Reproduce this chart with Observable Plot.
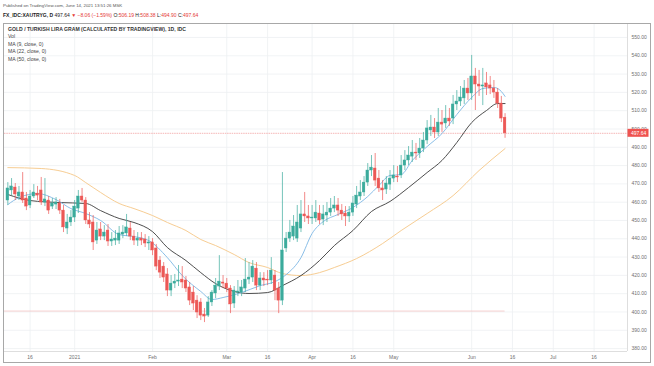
<!DOCTYPE html>
<html><head><meta charset="utf-8">
<script src="https://cdn.jsdelivr.net/npm/d3@7"></script>
<script src="https://cdn.jsdelivr.net/npm/@observablehq/plot@0.6"></script>
<style>
body{margin:0;width:654px;height:366px;position:relative;background:#fff;font-family:"Liberation Sans",Arial,sans-serif;overflow:hidden}
#chart{position:absolute;left:0;top:0}
#frame{position:absolute;left:3px;top:23px;width:646px;height:338px;border:1px solid #a8a8a8;pointer-events:none}
.h1{position:absolute;left:3px;top:3px;font-size:4.4px;color:#555;white-space:nowrap}
.h2{position:absolute;left:3px;top:12px;font-size:5px;color:#222;white-space:nowrap}
.red{color:#e53935}
.leg{position:absolute;left:8px;font-size:5.1px;color:#444;white-space:nowrap;line-height:1}
</style></head><body>
<div id="chart"></div>
<div id="frame"></div>
<div class="h1">Published on TradingView.com, June 14, 2021 13:51:26 MSK</div>
<div class="h2" id="hdr"></div>
<div class="leg" style="top:26.5px;font-weight:bold;color:#333">GOLD / TURKISH LIRA GRAM (CALCULATED BY TRADINGVIEW), 1D, IDC</div>
<div class="leg" style="top:34.3px">Vol</div>
<div class="leg" style="top:41.8px">MA (9, close, 0)</div>
<div class="leg" style="top:49.3px">MA (22, close, 0)</div>
<div class="leg" style="top:56.8px">MA (50, close, 0)</div>
<script>
// Daily bars (weekdays) starting 2020-12-08; bar offset 0 = 2021-01-01
const firstDay = "2020-12-08";
const open = [460.9,466.4,468.0,463.1,465.3,462.0,458.2,463.1,464.7,466.4,
459.8,460.9,457.6,458.7,459.3,455.4,445.6,448.9,451.6,456.5,
463.1,460.9,450.0,448.9,439.0,445.1,441.2,444.5,438.5,439.0,
439.0,442.3,442.9,445.6,441.2,439.0,440.1,439.6,437.4,438.0,
434.7,428.1,424.8,420.5,411.7,415.5,416.6,417.7,417.2,413.4,
410.6,406.2,405.2,398.6,398.0,405.2,410.1,413.9,416.1,415.5,
412.8,404.6,410.6,410.6,412.8,417.7,418.8,423.7,414.4,418.3,
417.7,417.2,419.9,412.8,406.2,434.7,440.1,441.2,440.1,445.6,
453.3,452.2,451.1,451.1,453.8,450.5,452.7,454.3,456.5,458.2,
455.4,453.8,452.2,454.3,458.7,463.1,465.3,470.7,477.3,478.4,
472.9,467.5,466.9,469.6,472.9,474.0,474.6,480.0,482.8,484.9,
487.1,486.6,489.3,493.7,499.2,500.8,498.1,503.5,503.0,505.7,
505.7,513.4,515.0,516.7,522.1,519.4,528.7,524.3,523.2,524.9,
523.8,522.1,519.9,513.9,506.19];
const high = [470.7,472.9,470.2,468.6,476.2,465.3,466.4,469.6,468.6,473.5,
472.9,463.1,462.0,462.5,461.5,458.2,453.3,455.4,460.9,466.4,
467.5,462.5,454.3,452.7,448.9,448.9,447.2,447.8,443.4,444.5,
446.7,447.2,453.3,448.9,444.5,443.4,443.4,442.3,441.2,440.1,
436.9,430.3,427.0,423.7,419.9,420.5,425.4,424.8,419.4,416.1,
413.9,408.9,407.3,401.9,408.4,411.7,418.3,430.8,419.9,418.3,
414.4,413.9,417.2,417.2,429.2,427.0,428.1,427.0,421.5,421.5,
422.6,429.7,422.6,416.1,476.2,443.4,450.0,452.7,458.2,460.9,
465.3,458.2,458.2,460.9,458.2,458.2,459.8,462.0,463.1,462.0,
458.7,457.6,457.6,463.1,468.6,471.8,474.0,481.1,485.5,486.6,
477.3,471.8,474.0,477.3,480.0,479.5,485.5,488.2,490.4,493.7,
492.1,494.8,498.1,504.6,507.4,505.7,511.2,510.1,512.8,511.2,
518.3,521.0,523.2,526.5,527.6,540.2,533.1,532.0,533.1,530.9,
528.7,526.5,522.1,517.8,508.38];
const low = [458.2,463.6,460.9,460.9,459.3,455.4,456.5,462.0,460.9,458.2,
457.6,453.3,456.0,456.0,453.3,443.4,442.3,446.7,448.9,453.8,
459.8,447.8,445.6,433.6,436.9,439.0,439.0,435.8,435.8,436.3,
436.9,440.1,441.2,439.0,436.3,435.8,436.3,435.2,433.6,430.8,
422.6,418.3,416.1,408.4,408.4,412.8,413.9,412.8,410.6,403.5,
400.8,396.4,395.3,394.2,397.0,403.0,407.3,411.7,412.8,410.6,
399.1,401.9,408.4,408.4,410.6,415.0,416.1,411.7,411.7,413.9,
414.4,415.0,406.2,399.1,403.5,432.5,438.0,439.0,438.0,443.4,
448.9,447.8,447.8,448.9,447.8,447.2,448.9,452.2,454.3,452.2,
450.0,446.7,448.9,452.2,456.5,460.9,463.1,468.6,474.0,468.6,
465.3,460.9,464.2,466.4,470.7,470.7,472.9,477.3,480.0,481.7,
482.8,483.9,487.1,491.5,495.9,494.8,495.9,498.1,500.3,501.4,
502.4,510.1,512.3,513.4,515.6,515.6,510.1,517.8,512.8,518.3,
518.8,516.7,511.2,503.5,494.90];
const close = [467.5,468.6,464.2,465.3,460.9,457.6,463.1,465.3,463.6,459.8,
461.5,455.4,459.3,459.8,455.4,446.2,448.9,451.6,457.6,463.1,
460.9,450.0,447.8,438.0,444.5,441.2,443.4,438.5,439.6,440.1,
442.9,443.4,446.2,441.2,439.0,440.1,439.0,437.4,438.0,433.6,
424.8,421.5,418.8,411.7,415.5,416.6,417.2,416.1,412.8,406.2,
404.6,399.7,398.0,397.5,405.2,410.6,414.4,416.6,415.5,412.8,
404.1,411.7,411.2,413.4,417.7,418.8,424.8,414.4,418.3,417.2,
417.2,422.6,411.7,406.2,433.6,440.1,443.4,446.7,448.9,453.3,
452.2,451.1,451.6,454.3,450.0,453.3,454.3,456.5,458.2,455.4,
453.3,452.2,454.3,459.3,463.6,465.3,470.7,477.3,478.9,471.8,
467.5,466.4,470.2,472.9,474.6,473.5,480.0,482.8,485.5,487.1,
486.6,489.3,493.7,500.3,500.8,498.1,503.5,502.4,505.7,504.1,
513.4,515.0,517.2,522.1,519.4,528.7,524.3,523.2,523.8,522.7,
522.1,519.9,513.9,505.7,497.64];

// Moving averages (bar offset from 2021-01-01, value)
const ma9Bar = [-18,-15,-10,-5,-1,3,7,12,16,20,25,29,34,37,40,45,50,54,57,61,64,67,71,75,79,82,85,88,91,95,99,103,107,110,113,115,116];
const ma9 = [458.7,462.5,464.7,461.4,456.5,453.8,450.0,442.3,441.2,439.0,429.7,419.9,411.2,406.8,407.9,410.6,414.4,416.6,420.4,429.7,442.9,449.4,453.3,457.1,463.1,469.1,474.6,475.1,482.8,490.4,497.5,507.9,517.2,522.1,522.7,520.5,517.8];
const ma22Bar = [-18,-12,-4,3,7,12,16,21,25,30,34,38,43,47,52,56,61,66,70,75,80,85,90,95,99,103,107,111,114,116];
const ma22 = [464.2,460.9,459.8,459.3,455.4,451.1,448.9,443.9,435.2,428.1,421.5,415.5,411.2,410.1,410.6,414.4,419.9,428.1,436.3,444.5,454.9,460.4,468.0,476.2,482.8,492.6,503.5,510.1,513.9,513.9];
const ma50Bar = [-18,-9,0,3,7,12,16,21,25,30,34,38,43,47,52,56,61,66,70,76,83,88,95,102,109,116];
const ma50 = [478.9,478.4,474.6,470.7,465.3,459.3,456.5,452.7,448.9,444.5,439.6,436.3,431.4,427.0,424.3,421.0,419.9,421.5,424.3,429.2,437.4,444.5,453.8,463.6,477.3,489.3];

const priceTicks = [380,390,400,410,420,430,440,450,460,470,480,490,500,510,520,530,540,550];
const tickDates = ["2020-12-16","2021-01-01","2021-02-01","2021-03-01","2021-03-16","2021-04-01","2021-04-16","2021-05-03","2021-06-01","2021-06-16","2021-07-01","2021-07-16"];
const tickLabels = ["16","2021","Feb","Mar","16","Apr","16","May","Jun","16","Jul","16"];
const lowLine = 400.5;

const UP = "#3bab9c", DN = "#ec5856";
const offset = 18;
const days = d3.utcDays(new Date(firstDay + "T00:00:00Z"), new Date("2021-08-01T00:00:00Z")).filter(d => d.getUTCDay() % 6 !== 0);
const posOf = s => days.findIndex(d => +d === +new Date(s + "T00:00:00Z")) - offset;
const tickPos = tickDates.map(posOf);

const bars = open.map((o, k) => ({x: k - offset, open: o, high: high[k], low: low[k], close: close[k], c: close[k] >= o ? UP : DN}));
const last = bars[bars.length - 1], prev = bars[bars.length - 2];
const mk = (xs, ys) => xs.map((x, k) => ({x, y: ys[k]}));
const xMin = -18.9, xMax = 149, yMin = 378.4, yMax = 557.1;

const chg = last.close - prev.close;
document.getElementById("hdr").innerHTML =
  `<b>FX_IDC:XAUTRYG, D</b> ${last.close.toFixed(2)} <span class="red">▼ ${chg.toFixed(2).replace("-", "−")} (${(chg / prev.close * 100).toFixed(2).replace("-", "−")}%)</span> O:<span class="red">${last.open.toFixed(2)}</span> H:<span class="red">${last.high.toFixed(2)}</span> L:<span class="red">${last.low.toFixed(2)}</span> C:<span class="red">${last.close.toFixed(2)}</span>`;

const chart = Plot.plot({
  width: 654, height: 366,
  marginTop: 24, marginBottom: 15, marginLeft: 4, marginRight: 27,
  style: {fontFamily: "Liberation Sans, Arial, sans-serif", fontSize: "5px", color: "#707070", background: "transparent", overflow: "visible"},
  x: {domain: [xMin, xMax], ticks: tickPos, tickFormat: d => tickLabels[tickPos.indexOf(d)], tickSize: 0, tickPadding: 4, label: null},
  y: {domain: [yMin, yMax], axis: "right", ticks: priceTicks, tickFormat: d3.format(".2f"), tickSize: 0, tickPadding: 4, label: null},
  marks: [
    Plot.ruleY(priceTicks, {stroke: "#eef0f2", strokeWidth: 0.8}),
    Plot.ruleX(tickPos, {stroke: "#eef0f2", strokeWidth: 0.8}),
    Plot.ruleY([{y: lowLine, x1: xMin, x2: last.x}], {y: "y", x1: "x1", x2: "x2", stroke: "#f3c4c4", strokeWidth: 0.8}),
    Plot.ruleY([last.close], {stroke: "#f2a3a3", strokeWidth: 0.8, strokeDasharray: "1.5,0.8"}),
    Plot.line(mk(ma50Bar, ma50), {x: "x", y: "y", stroke: "#f7cd93", strokeWidth: 1, curve: "monotone-x"}),
    Plot.line(mk(ma22Bar, ma22), {x: "x", y: "y", stroke: "#3a3a3a", strokeWidth: 0.9, curve: "monotone-x"}),
    Plot.line(mk(ma9Bar, ma9), {x: "x", y: "y", stroke: "#7db7e4", strokeWidth: 0.9, curve: "monotone-x"}),
    Plot.ruleX(bars, {x: "x", y1: "low", y2: "high", stroke: "c", strokeWidth: 0.7}),
    Plot.rect(bars, {x1: d => d.x - 0.36, x2: d => d.x + 0.36, y1: "open", y2: "close", fill: "c", stroke: "c", strokeWidth: 0.4}),
    Plot.ruleX([xMax], {stroke: "#d6d6d6", strokeWidth: 0.8}),
    Plot.ruleY([yMin], {stroke: "#d6d6d6", strokeWidth: 0.8})
  ]
});
document.getElementById("chart").appendChild(chart);

const ys = chart.scale("y").apply(last.close);
const xs = chart.scale("x").apply(xMax);
const g = d3.select(chart).append("g");
g.append("rect").attr("x", xs + 0.5).attr("y", ys - 4).attr("width", 21).attr("height", 8).attr("fill", "#ef5350");
g.append("text").attr("x", xs + 4).attr("y", ys).attr("dy", "0.35em").attr("text-anchor", "start").attr("fill", "#fff").attr("font-size", "5px").text(last.close.toFixed(2));
</script>
</body></html>
